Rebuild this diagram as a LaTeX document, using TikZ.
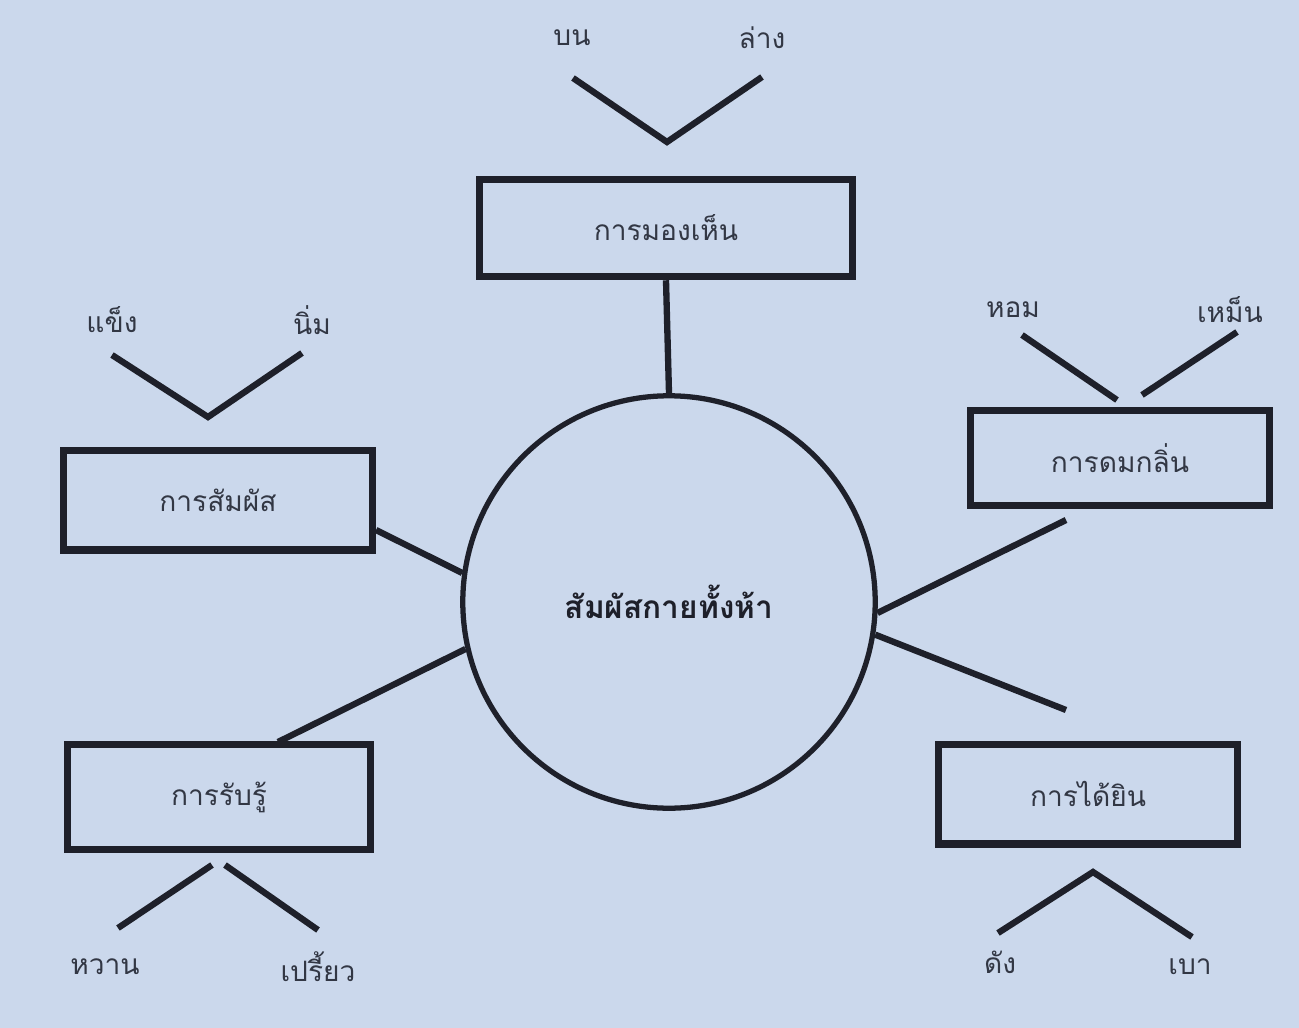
\documentclass[tikz,border=0pt]{standalone}
\usepackage{fontspec}
\newfontfamily\thaifont[Script=Thai]{Loma}
\definecolor{paper}{RGB}{203,216,236}
\definecolor{ink}{RGB}{30,32,42}
\definecolor{txt}{RGB}{50,55,68}
\begin{document}
\begin{tikzpicture}[x=0.02cm,y=-0.02cm,
  box/.style={draw=ink,line width=4pt,minimum width=#1,minimum height=1.9cm,inner sep=0pt,font=\thaifont\fontsize{16}{19}\selectfont,text=txt},
  lbl/.style={font=\thaifont\fontsize{16}{19}\selectfont,text=txt,inner sep=0pt},
  ln/.style={draw=ink,line width=3.6pt},
]
\fill[paper] (0,0) rectangle (1299,1028);
\useasboundingbox (0,0) rectangle (1299,1028);

\node[circle,draw=ink,line width=3pt,minimum size=8.25cm,inner sep=0pt,font=\thaifont\bfseries\fontsize{18}{22}\selectfont,text=ink] (c) at (669,602) {สัมผัสกายทั้งห้า};

\node[box=7.45cm,minimum height=1.95cm] (see) at (666,228) {การมองเห็น};
\node[box=6.0cm,minimum height=1.9cm] (smell) at (1120,458) {การดมกลิ่น};
\node[box=6.2cm,minimum height=2.0cm] (touch) at (218,500) {การสัมผัส};
\node[box=6.05cm,minimum height=2.1cm] (taste) at (219,797) {การรับรู้};
\node[box=6.0cm,minimum height=2.0cm] (hear) at (1088,794) {การได้ยิน};

% connectors to centre
\draw[ln] (see.south) -- (c.north);
\coordinate (t1) at (376,530);
\draw[ln] (t1) -- (c.172);
\coordinate (r1) at (278,742);
\draw[ln] (r1) -- (c.193);
\coordinate (s1) at (1066,520);
\draw[ln] (s1) -- (c.-3);
\coordinate (h1) at (1066,710);
\draw[ln] (c.-9) -- (h1);

% top V
\node[lbl] (bon) at (572,38) {บน};
\node[lbl] (lang) at (762,38) {ล่าง};
\coordinate (v1a) at (573,78);
\coordinate (v1b) at (667,142);
\coordinate (v1c) at (762,77);
\draw[ln] (v1a) -- (v1b) -- (v1c);

% left V
\node[lbl] (khaeng) at (112,320) {แข็ง};
\node[lbl] (nim) at (312,320) {นิ่ม};
\coordinate (v2a) at (112,355);
\coordinate (v2b) at (208,417);
\coordinate (v2c) at (302,353);
\draw[ln] (v2a) -- (v2b) -- (v2c);

% right V (split)
\node[lbl] (hom) at (1013,310) {หอม};
\node[lbl] (men) at (1230,310) {เหม็น};
\coordinate (v3a) at (1022,335);
\coordinate (v3b) at (1117,400);
\coordinate (v3c) at (1142,395);
\coordinate (v3d) at (1237,332);
\draw[ln] (v3a) -- (v3b);
\draw[ln] (v3c) -- (v3d);

% bottom left (split)
\node[lbl] (wan) at (105,967) {หวาน};
\node[lbl] (priao) at (318,967) {เปรี้ยว};
\coordinate (v4a) at (118,928);
\coordinate (v4b) at (212,865);
\coordinate (v4c) at (225,865);
\coordinate (v4d) at (318,930);
\draw[ln] (v4a) -- (v4b);
\draw[ln] (v4c) -- (v4d);

% bottom right V
\node[lbl] (dang) at (1000,962) {ดัง};
\node[lbl] (bao) at (1190,967) {เบา};
\coordinate (v5a) at (998,933);
\coordinate (v5b) at (1093,872);
\coordinate (v5c) at (1192,937);
\draw[ln] (v5a) -- (v5b) -- (v5c);
\end{tikzpicture}
\end{document}
